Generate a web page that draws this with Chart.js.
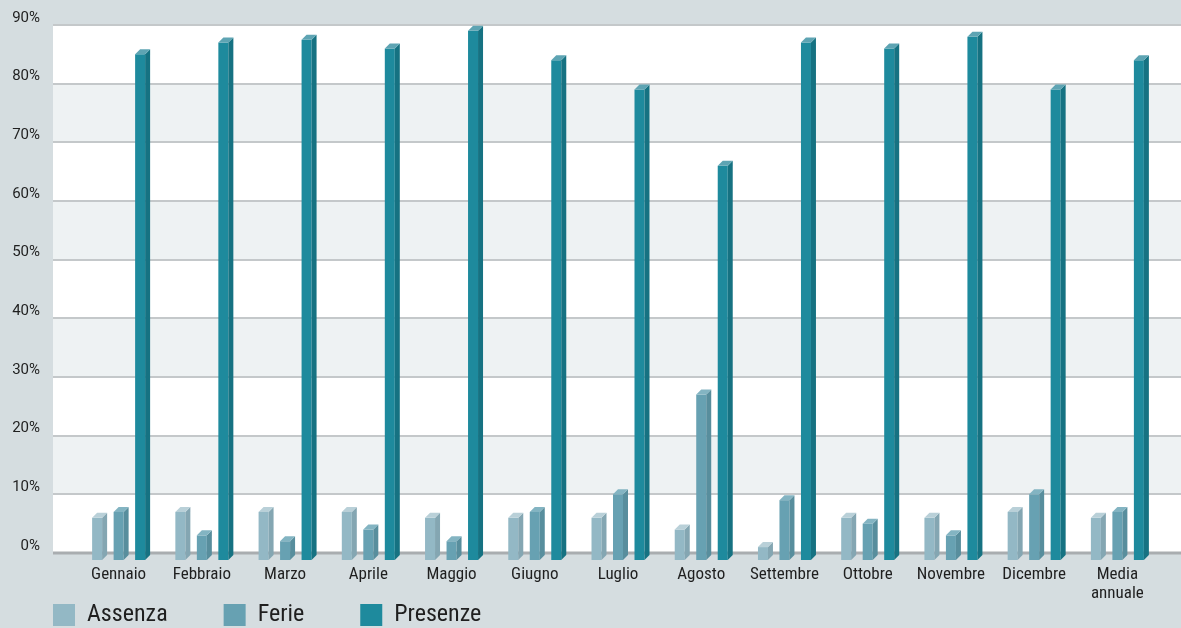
<!DOCTYPE html>
<html>
<head>
<meta charset="utf-8">
<script src="https://cdn.jsdelivr.net/npm/chart.js@4.4.0/dist/chart.umd.min.js"></script>
<style>
  html, body { margin: 0; padding: 0; background: #d5dde0; }
  #wrap { width: 1181px; height: 628px; }
</style>
</head>
<body>
<div id="wrap"><canvas id="presenzeChart" width="1181" height="628"></canvas></div>
<script>
const mesi = ['Gennaio', 'Febbraio', 'Marzo', 'Aprile', 'Maggio', 'Giugno', 'Luglio', 'Agosto',
  'Settembre', 'Ottobre', 'Novembre', 'Dicembre', ['Media', 'annuale']];
const assenza = [6, 7, 7, 7, 6, 6, 6, 4, 1, 6, 6, 7, 6];
const ferie = [7, 3, 2, 4, 2, 7, 10, 27, 9, 5, 3, 10, 7];
const presenze = [85, 87, 87.5, 86, 89, 84, 79, 66, 87, 86, 88, 79, 84];
const yTicks = [0, 10, 20, 30, 40, 50, 60, 70, 80, 90];

const serie = ['Assenza', 'Ferie', 'Presenze'];
const front = ['#93b8c5', '#67a1b2', '#1e8a9d'];
const side = ['#84a6b2', '#588e9d', '#167282'];
const top3d = ['#b9d0d8', '#83b4c2', '#5ea4b3'];

const FONT = "'Roboto Condensed', Roboto, sans-serif";
const depth = 5;

// background bands + gridlines (wider than the chart area, like the original)
const bands = {
  id: 'bands',
  beforeDatasetsDraw(chart) {
    const { ctx, chartArea, scales: { y } } = chart;
    const left = chartArea.left - 24, right = chart.width;
    ctx.save();
    for (let i = 0; i < yTicks.length - 1; i++) {
      const y0 = y.getPixelForValue(yTicks[i]);
      const y1 = y.getPixelForValue(yTicks[i + 1]);
      ctx.fillStyle = i % 2 === 0 ? '#ffffff' : '#eef2f3';
      ctx.fillRect(left, y1, right - left, y0 - y1);
    }
    yTicks.forEach(v => {
      const py = Math.round(y.getPixelForValue(v));
      ctx.strokeStyle = v === 0 ? '#a9adb0' : '#c4c8ca';
      ctx.lineWidth = v === 0 ? 3 : 2;
      ctx.beginPath();
      ctx.moveTo(left, py);
      ctx.lineTo(right, py);
      ctx.stroke();
    });
    ctx.restore();
  }
};

// side and top faces for the 3d look
const bar3d = {
  id: 'bar3d',
  afterDatasetsDraw(chart) {
    const ctx = chart.ctx;
    ctx.save();
    chart.data.datasets.forEach((ds, i) => {
      chart.getDatasetMeta(i).data.forEach(bar => {
        const { x, y, base, width } = bar.getProps(['x', 'y', 'base', 'width'], true);
        const l = x - width / 2, r = x + width / 2;
        ctx.fillStyle = side[i];
        ctx.beginPath();
        ctx.moveTo(r, y);
        ctx.lineTo(r + depth, y - depth);
        ctx.lineTo(r + depth, base - depth);
        ctx.lineTo(r, base);
        ctx.closePath();
        ctx.fill();
        ctx.fillStyle = top3d[i];
        ctx.beginPath();
        ctx.moveTo(l, y);
        ctx.lineTo(l + depth, y - depth);
        ctx.lineTo(r + depth, y - depth);
        ctx.lineTo(r, y);
        ctx.closePath();
        ctx.fill();
      });
    });
    ctx.restore();
  }
};

// legend along the bottom edge
const legendaBasso = {
  id: 'legendaBasso',
  afterDraw(chart) {
    const { ctx, chartArea } = chart;
    let x = chartArea.left - 24;
    const yBox = chart.height - 24;
    ctx.save();
    ctx.font = '24px ' + FONT;
    ctx.textBaseline = 'middle';
    chart.data.datasets.forEach((ds, i) => {
      ctx.fillStyle = front[i];
      ctx.fillRect(x, yBox, 22, 22);
      ctx.fillStyle = '#1f1f1f';
      ctx.fillText(ds.label, x + 34, yBox + 11);
      x += 34 + ctx.measureText(ds.label).width + 56;
    });
    ctx.restore();
  }
};

new Chart(document.getElementById('presenzeChart'), {
  type: 'bar',
  data: {
    labels: mesi,
    datasets: [
      { label: serie[0], data: assenza, backgroundColor: front[0] },
      { label: serie[1], data: ferie, backgroundColor: front[1] },
      { label: serie[2], data: presenze, backgroundColor: front[2] }
    ]
  },
  options: {
    responsive: false,
    animation: false,
    base: -1.2,
    categoryPercentage: 0.775,
    barPercentage: 0.465,
    layout: { padding: { top: 25, right: 22, left: 0, bottom: 0 } },
    plugins: {
      legend: { display: false },
      tooltip: { enabled: false }
    },
    scales: {
      x: {
        grid: { display: false, drawTicks: false },
        border: { display: false },
        ticks: {
          color: '#1f1f1f',
          font: { family: FONT, size: 17, lineHeight: 1.12 },
          padding: 5.5,
          maxRotation: 0,
          autoSkip: false
        },
        afterFit: s => { s.height = 68; s.paddingLeft = 0; s.paddingRight = 0; }
      },
      y: {
        min: -1.2,
        max: 90,
        grid: { display: false, drawTicks: false },
        border: { display: false },
        afterBuildTicks: s => { s.ticks = yTicks.map(v => ({ value: v })); },
        ticks: {
          color: '#1f1f1f',
          font: { family: 'Roboto, sans-serif', size: 15 },
          padding: 37,
          labelOffset: -7,
          callback: v => v + '%'
        },
        afterFit: s => { s.width = 77; s.paddingTop = 0; s.paddingBottom = 0; }
      }
    }
  },
  plugins: [bands, bar3d, legendaBasso]
});
</script>
</body>
</html>
